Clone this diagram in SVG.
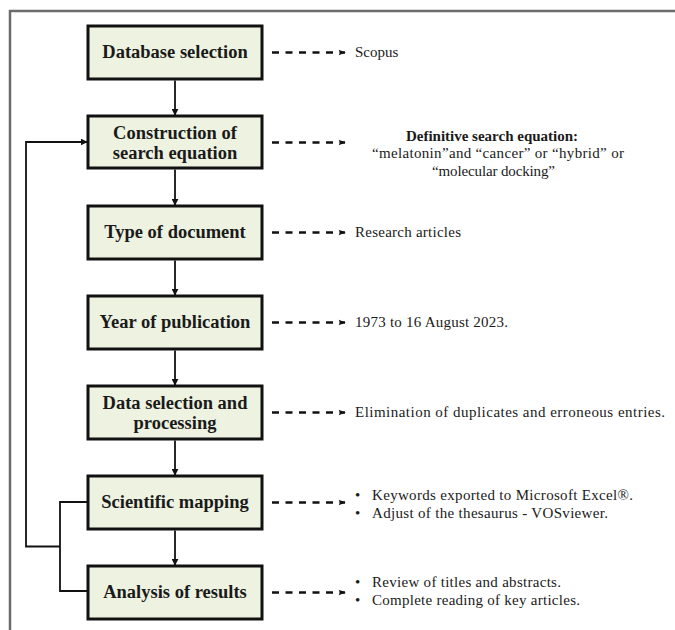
<svg xmlns="http://www.w3.org/2000/svg" width="675" height="630" viewBox="0 0 675 630">
<defs>
<style>
.box{fill:#EEF3E1;stroke:#111;stroke-width:3}
.bt{font-family:"Liberation Serif",serif;font-weight:bold;font-size:18.5px;fill:#1a1a1a;text-anchor:middle}
.lb{font-family:"Liberation Serif",serif;font-size:15px;fill:#1a1a1a}
.lbb{font-family:"Liberation Serif",serif;font-size:15px;font-weight:bold;fill:#1a1a1a}
.solid{fill:none;stroke:#111;stroke-width:1.8}
.dash{fill:none;stroke:#111;stroke-width:2.5;stroke-dasharray:7 6.5}
</style>
<marker id="ah" viewBox="0 0 10 10" refX="9" refY="5" markerWidth="7" markerHeight="7" markerUnits="userSpaceOnUse" orient="auto">
<path d="M0,0 L10,5 L0,10 z" fill="#111"/>
</marker>
<marker id="dh" viewBox="0 0 10 10" refX="9" refY="5" markerWidth="9" markerHeight="7" markerUnits="userSpaceOnUse" orient="auto">
<path d="M0,1 L10,5 L0,9 L2,5 z" fill="#111"/>
</marker>
</defs>
<rect width="675" height="630" fill="#fff"/>
<path d="M10,630 V11 H675" fill="none" stroke="#6b6b6b" stroke-width="2.5"/>

<g id="connectors">
<path class="solid" d="M175,80.5 V115" marker-end="url(#ah)"/>
<path class="solid" d="M175,169.5 V205" marker-end="url(#ah)"/>
<path class="solid" d="M175,260.5 V295" marker-end="url(#ah)"/>
<path class="solid" d="M175,350.5 V385" marker-end="url(#ah)"/>
<path class="solid" d="M175,440.5 V475" marker-end="url(#ah)"/>
<path class="solid" d="M175,530.5 V565" marker-end="url(#ah)"/>
<path class="solid" d="M88,502 H60 V591 H88"/>
<path class="solid" d="M60,546.5 H26 V142 H87" marker-end="url(#ah)"/>
<path class="dash" d="M272,52.5 H345" marker-end="url(#dh)"/>
<path class="dash" d="M272,142.5 H345" marker-end="url(#dh)"/>
<path class="dash" d="M272,232.5 H345" marker-end="url(#dh)"/>
<path class="dash" d="M272,322.5 H345" marker-end="url(#dh)"/>
<path class="dash" d="M272,412.5 H345" marker-end="url(#dh)"/>
<path class="dash" d="M272,502.5 H345" marker-end="url(#dh)"/>
<path class="dash" d="M272,592.5 H345" marker-end="url(#dh)"/>
</g>

<g id="n1"><rect class="box" x="88" y="26" width="174" height="53"/><text class="bt" x="175" y="58">Database selection</text></g>
<g id="n2"><rect class="box" x="88" y="116" width="174" height="52"/><text class="bt" x="175" y="139">Construction of</text><text class="bt" x="175" y="159">search equation</text></g>
<g id="n3"><rect class="box" x="88" y="206" width="174" height="53"/><text class="bt" x="175" y="238">Type of document</text></g>
<g id="n4"><rect class="box" x="88" y="296" width="174" height="53"/><text class="bt" x="175" y="328">Year of publication</text></g>
<g id="n5"><rect class="box" x="88" y="386" width="174" height="53"/><text class="bt" x="175" y="409">Data selection and</text><text class="bt" x="175" y="429">processing</text></g>
<g id="n6"><rect class="box" x="88" y="476" width="174" height="53"/><text class="bt" x="175" y="508">Scientific mapping</text></g>
<g id="n7"><rect class="box" x="88" y="566" width="174" height="53"/><text class="bt" x="175" y="598">Analysis of results</text></g>

<g id="labels">
<text class="lb" x="355" y="57">Scopus</text>
<text class="lbb" x="492" y="141" text-anchor="middle">Definitive search equation:</text>
<text class="lb" x="372" y="158" textLength="252" lengthAdjust="spacing">“melatonin”and “cancer” or “hybrid” or</text>
<text class="lb" x="432" y="176" textLength="123" lengthAdjust="spacing">“molecular docking”</text>
<text class="lb" x="355" y="237" textLength="106" lengthAdjust="spacing">Research articles</text>
<text class="lb" x="355" y="327" textLength="153" lengthAdjust="spacing">1973 to 16 August 2023.</text>
<text class="lb" x="355" y="417" textLength="310" lengthAdjust="spacing">Elimination of duplicates and erroneous entries.</text>
<text class="lb" x="355" y="500">•</text>
<text class="lb" x="372" y="500" textLength="261" lengthAdjust="spacing">Keywords exported to Microsoft Excel®.</text>
<text class="lb" x="355" y="518">•</text>
<text class="lb" x="372" y="518" textLength="236" lengthAdjust="spacing">Adjust of the thesaurus - VOSviewer.</text>
<text class="lb" x="355" y="587">•</text>
<text class="lb" x="372" y="587" textLength="189" lengthAdjust="spacing">Review of titles and abstracts.</text>
<text class="lb" x="355" y="605">•</text>
<text class="lb" x="372" y="605" textLength="208" lengthAdjust="spacing">Complete reading of key articles.</text>
</g>
</svg>
